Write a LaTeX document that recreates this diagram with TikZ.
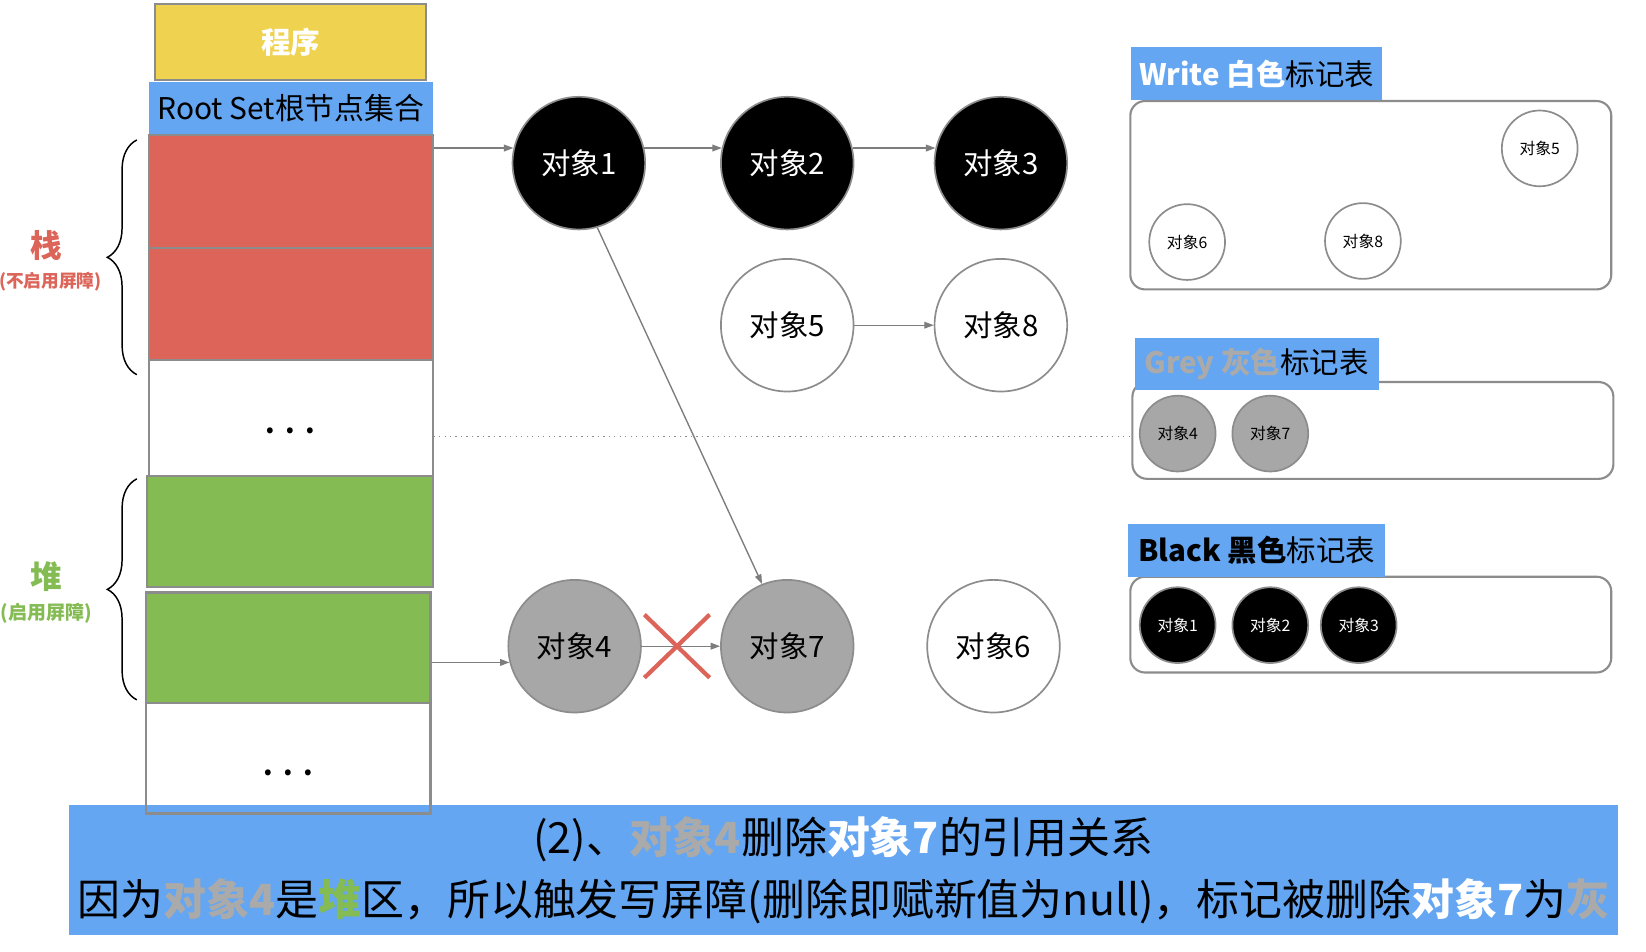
\documentclass[tikz,border=0pt]{standalone}
\usepackage{fontspec}
\setmainfont{Noto Sans CJK SC}
\usetikzlibrary{arrows.meta,decorations.pathreplacing,shapes.misc}
\definecolor{cyel}{RGB}{238,210,80}
\definecolor{cblue}{RGB}{100,166,242}
\definecolor{cred}{RGB}{220,100,89}
\definecolor{cgreen}{RGB}{132,187,83}
\definecolor{cgray}{RGB}{166,167,166}
\definecolor{cline}{RGB}{140,140,140}
\definecolor{carrow}{RGB}{125,125,125}
\definecolor{ctxtgray}{RGB}{170,170,170}
\begin{document}
\begin{tikzpicture}[x=0.5pt,y=-0.5pt,
  cell/.style={draw=cline, line width=1pt, rectangle, inner sep=0pt},
  obj/.style={circle, draw=cline, line width=0.8pt, minimum size=63pt, inner sep=0pt, font=\fontsize{14}{16}\selectfont},
  objb/.style={obj, fill=black, text=white},
  objg/.style={obj, fill=cgray},
  objw/.style={obj, fill=white},
  sobj/.style={circle, draw=cline, line width=0.8pt, minimum size=36pt, inner sep=0pt, font=\fontsize{7.5}{9}\selectfont},
  rbox/.style={draw=cline, line width=1pt, rounded corners=7pt, rectangle, inner sep=0pt},
  lbl/.style={fill=cblue, rectangle, minimum width=119.5pt, minimum height=25pt, inner sep=0pt, font=\fontsize{14}{16}\selectfont},
  arr/.style={draw=carrow, line width=0.65pt, -{Triangle[length=4.5pt,width=3.2pt]}},
  dotln/.style={draw=cline, line width=0.6pt, dash pattern=on 0.6pt off 2pt},
  brc/.style={draw=black, line width=0.7pt, decorate, decoration={brace, amplitude=14pt, aspect=0.5}},
  dotstxt/.style={inner sep=0pt, font=\bfseries\fontsize{13}{15}\selectfont},
  xmark/.style={cross out, draw=cred, line width=2pt, minimum width=29pt, minimum height=28pt, inner sep=0pt},
  band/.style={fill=cblue, rectangle, minimum width=735.5pt, minimum height=61.5pt, inner sep=0pt, align=center, font=\fontsize{20.4}{29.5}\selectfont}
]
\fill[white] (0,0) rectangle (1564,904);
\useasboundingbox (0,0) rectangle (1564,904);

% left column
\node[cell, fill=cyel, minimum width=129pt, minimum height=36pt, text=white, font=\bfseries\fontsize{14}{16}\selectfont] (prog) at (276,40) {程序};
\node[fill=cblue, rectangle, minimum width=134.5pt, minimum height=25pt, inner sep=0pt, font=\fontsize{14.2}{16}\selectfont] (root) at (276.5,103) {Root Set根节点集合};
\node[cell, fill=cred, minimum width=134.5pt, minimum height=54pt] (r1) at (276.5,182) {};
\node[cell, fill=cred, minimum width=134.5pt, minimum height=53pt] (r2) at (276.5,289) {};
\node[cell, minimum width=134.5pt, minimum height=55pt] (w1) at (276.5,397) {};
\node[dotstxt] (d1) at (276,409) {.\hspace{5pt}.\hspace{5pt}.};
\node[cell, fill=cgreen, minimum width=135.5pt, minimum height=53pt] (g1) at (275.5,505) {};
\node[cell, fill=cgreen, minimum width=135pt, minimum height=52.5pt] (g2) at (274,615.5) {};

% bottom band
\node[band] (band) at (801.5,826.5) {(2)、\textbf{\color{ctxtgray}对象4}删除\textbf{\color{white}对象7}的引用关系\\
因为\textbf{\color{ctxtgray}对象4}是\textbf{\color{cgreen}堆}区，所以触发写屏障(删除即赋新值为null)，标记被删除\textbf{\color{white}对象7}为\textbf{\color{ctxtgray}灰}};

\node[cell, minimum width=135pt, minimum height=52.5pt] (w2) at (274,720.5) {};
\node[dotstxt] (d2) at (274,734) {.\hspace{5pt}.\hspace{5pt}.};

% braces and labels
\coordinate (bs1) at (130,133);
\coordinate (be1) at (130,356);
\coordinate (bs2) at (130,455);
\coordinate (be2) at (130,665);
\draw[brc] (be1) -- (bs1);
\draw[brc] (be2) -- (bs2);
\node[font=\bfseries\fontsize{15}{17}\selectfont, text=cred, inner sep=0pt] (zhan) at (44,233) {栈};
\node[font=\bfseries\fontsize{8.4}{10}\selectfont, text=cred, anchor=east, inner sep=0pt] (zhan2) at (97,268) {(不启用屏障)};
\node[font=\bfseries\fontsize{15}{17}\selectfont, text=cgreen, inner sep=0pt] (dui) at (44,548) {堆};
\node[font=\bfseries\fontsize{9}{11}\selectfont, text=cgreen, inner sep=0pt] (dui2) at (44,583) {(启用屏障)};

% objects
\node[objb] (o1) at (550,155) {对象1};
\node[objb] (o2) at (748,155) {对象2};
\node[objb] (o3) at (951,155) {对象3};
\node[objw] (o5) at (748,309) {对象5};
\node[objw] (o8) at (951,309) {对象8};
\node[objg] (o4) at (546,614) {对象4};
\node[objg] (o7) at (748,614) {对象7};
\node[objw] (o6) at (944,614) {对象6};

% right tables
\node[rbox, minimum width=228.5pt, minimum height=89.5pt] (wbox) at (1302.5,185.5) {};
\node[lbl] (wl) at (1194,70) {\textbf{\color{white}Write 白色}标记表};
\node[sobj, fill=white] (s5) at (1463,141) {对象5};
\node[sobj, fill=white] (s6) at (1128,230) {对象6};
\node[sobj, fill=white] (s8) at (1295,229) {对象8};

\node[rbox, minimum width=228.5pt, minimum height=46pt] (gbox) at (1304.5,409) {};
\node[lbl, minimum width=116pt] (gl) at (1194,346) {\textbf{\color{ctxtgray}Grey 灰色}标记表};
\node[sobj, fill=cgray] (s4) at (1119,412) {对象4};
\node[sobj, fill=cgray] (s7) at (1207,412) {对象7};

\node[rbox, minimum width=228.5pt, minimum height=45.5pt] (bbox) at (1302.5,593.5) {};
\node[lbl, minimum width=122pt] (bl) at (1194,523) {\textbf{Black 黑色}标记表};
\node[sobj, fill=black, text=white] (s1) at (1119,594) {对象1};
\node[sobj, fill=black, text=white] (s2) at (1207,594) {对象2};
\node[sobj, fill=black, text=white] (s3) at (1291,594) {对象3};

% connectors
\draw[arr] (o1.167 -| r1.east) -- (o1.167);
\draw[arr] (o1.13) -- (o2.167);
\draw[arr] (o2.13) -- (o3.167);
\draw[arr] (o5) -- (o8);
\draw[arr] (o1.-74) -- (o7.112);
\draw[arr] (o4.194 -| g2.east) -- (o4.194);
\draw[arr] (o4) -- (o7) node[pos=0.45, xmark] (x47) {};
\draw[dotln] ([yshift=-9pt]w1.east) -- ([yshift=-9pt]w1.east -| gbox.west);
\end{tikzpicture}
\end{document}
